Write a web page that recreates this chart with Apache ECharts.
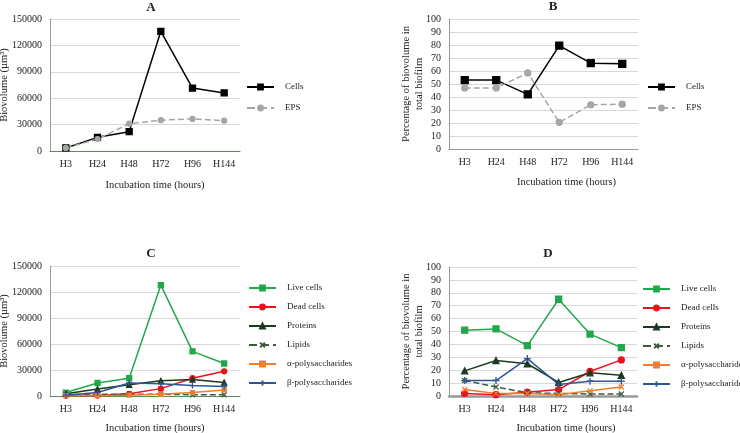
<!DOCTYPE html>
<html>
<head>
<meta charset="utf-8">
<script src="https://cdn.jsdelivr.net/npm/echarts@6/dist/echarts.min.js"></script>
<style>
  html, body { margin: 0; padding: 0; background: #fff; }
  #chart { width: 740px; height: 433px; }
</style>
</head>
<body>
<div id="chart"></div>
<script>
// incubation times
var hours = ['H3', 'H24', 'H48', 'H72', 'H96', 'H144'];

// panel A - biovolume (µm³)
var cellsVol = [3500, 15500, 22000, 136000, 71500, 66000];
var epsVol = [3500, 13500, 31000, 35000, 36500, 34500];

// panel B - percentage of total biofilm
var cellsPct = [53, 53, 42, 79.5, 66, 65.5];
var epsPct = [47, 47, 58.5, 20.5, 34, 34.5];

// panel C - biovolume by component
var liveVol = [4000, 15000, 20500, 128000, 51500, 37500];
var deadVol = [500, 500, 2500, 8500, 20500, 28500];
var protVol = [2500, 8000, 13000, 17500, 19000, 15500];
var lipVol = [1500, 2000, 2000, 2000, 1500, 1500];
var alphaVol = [500, 500, 1000, 2000, 4000, 7000];
var betaVol = [1000, 4000, 15000, 14000, 12000, 11000];

// panel D - percentage by component
var livePct = [51, 52, 39, 75, 48, 37.5];
var deadPct = [2, 1, 3, 5, 19, 28];
var protPct = [19.5, 27.5, 25, 10.5, 18, 16];
var lipPct = [12, 7, 2.5, 2, 1.5, 1.5];
var alphaPct = [5, 2, 2, 1, 4, 7];
var betaPct = [12, 12, 29, 9, 11.5, 11.5];

var font = 'Liberation Serif';
var crossPath = 'path://M0,0L10,10M10,0L0,10';
var plusPath = 'path://M5,0L5,10M0,5L10,5';

var myChart = echarts.init(document.getElementById('chart'));

function xAx(idx, lineColor, lineW, shift, gap) {
  return {
    gridIndex: idx,
    type: 'category',
    data: hours,
    boundaryGap: true,
    axisTick: { show: false },
    axisLine: { lineStyle: { color: lineColor, width: lineW } },
    axisLabel: { color: '#222', fontFamily: font, fontSize: 10, margin: 8, interval: 0 },
    name: 'Incubation time (hours)',
    nameLocation: 'middle',
    nameGap: gap,
    nameTextStyle: { color: '#222', fontFamily: font, fontSize: 10.5, padding: [0, 0, 0, shift] }
  };
}

function yAx(idx, max, step, name, gap) {
  return {
    gridIndex: idx,
    type: 'value',
    min: 0,
    max: max,
    interval: step,
    axisTick: { show: false },
    axisLine: { show: true, lineStyle: { color: '#999', width: 1 } },
    axisLabel: { color: '#222', fontFamily: font, fontSize: 10, margin: 8, formatter: function (v) { return String(v); } },
    splitLine: { lineStyle: { color: '#d9d9d9' } },
    name: name,
    nameLocation: 'middle',
    nameRotate: 90,
    nameGap: gap,
    nameMoveOverlap: false,
    nameTextStyle: { color: '#222', fontFamily: font, fontSize: 10.5, lineHeight: 13 }
  };
}

function line(name, idx, data, color, symbol, size, dashed) {
  return {
    name: name,
    type: 'line',
    xAxisIndex: idx,
    yAxisIndex: idx,
    data: data,
    symbol: symbol,
    symbolSize: size,
    lineStyle: { color: color, width: 1.5, type: dashed ? 'dashed' : 'solid' },
    itemStyle: { color: color, borderColor: color, borderWidth: 1.3 },
    emphasis: { disabled: true }
  };
}

function legend(left, top, names, gap) {
  return {
    orient: 'vertical',
    left: left,
    top: top,
    itemWidth: 27,
    itemHeight: 6,
    itemGap: gap,
    data: names,
    textStyle: { color: '#222', fontFamily: font, fontSize: 9, lineHeight: 12, padding: [0, 0, 0, 6], overflow: 'none' }
  };
}

var compNames = ['Live cells', 'Dead cells', 'Proteins', 'Lipids', 'α-polysaccharides', 'β-polysaccharides'];
var titleStyle = { fontFamily: font, fontSize: 13, fontWeight: 'bold', color: '#222' };

var options = {
  animation: false,
  title: [
    { text: 'A', left: 146, top: -4, textAlign: 'center', textStyle: titleStyle },
    { text: 'B', left: 548, top: -5, textAlign: 'center', textStyle: titleStyle },
    { text: 'C', left: 146, top: 242, textAlign: 'center', textStyle: titleStyle },
    { text: 'D', left: 543, top: 242, textAlign: 'center', textStyle: titleStyle }
  ],
  grid: [
    { left: 50, top: 19, width: 190, height: 132, outerBoundsMode: 'none' },
    { left: 449, top: 19, width: 189, height: 130, outerBoundsMode: 'none' },
    { left: 50, top: 266, width: 190, height: 130, outerBoundsMode: 'none' },
    { left: 449, top: 267, width: 188, height: 129, outerBoundsMode: 'none' }
  ],
  xAxis: [
    xAx(0, '#5f8a5f', 1, 20, 29),
    xAx(1, '#999', 1, 46, 28),
    xAx(2, '#5f8a5f', 1, 20, 27),
    xAx(3, '#999', 2.5, 46, 27)
  ],
  yAxis: [
    yAx(0, 150000, 30000, 'Biovolume (µm³)', 39),
    yAx(1, 100, 10, 'Percentage of biovolume in\ntotal biofilm', 23),
    yAx(2, 150000, 30000, 'Biovolume (µm³)', 39),
    yAx(3, 100, 10, 'Percentage of biovolume in\ntotal biofilm', 23)
  ],
  legend: [
    legend(241, 76, ['Cells', 'EPS'], 9),
    legend(642, 76, ['Cells', 'EPS'], 9),
    legend(243, 277, compNames, 7),
    legend(637, 278, compNames, 7)
  ],
  series: [
    line('Cells', 0, cellsVol, '#000000', 'rect', 6),
    line('EPS', 0, epsVol, '#a6a6a6', 'circle', 5, true),
    line('Cells', 1, cellsPct, '#000000', 'rect', 7),
    line('EPS', 1, epsPct, '#a6a6a6', 'circle', 6, true),

    line('Live cells', 2, liveVol, '#22a84b', 'rect', 5),
    line('Dead cells', 2, deadVol, '#e8141b', 'circle', 5),
    line('Proteins', 2, protVol, '#1d3a1d', 'triangle', 5),
    line('Lipids', 2, lipVol, '#3c5c3c', crossPath, 5, true),
    line('α-polysaccharides', 2, alphaVol, '#f07d32', 'rect', 4),
    line('β-polysaccharides', 2, betaVol, '#2f5597', plusPath, 6),

    line('Live cells', 3, livePct, '#22a84b', 'rect', 6),
    line('Dead cells', 3, deadPct, '#e8141b', 'circle', 6),
    line('Proteins', 3, protPct, '#1d3a1d', 'triangle', 6),
    line('Lipids', 3, lipPct, '#3c5c3c', crossPath, 5, true),
    line('α-polysaccharides', 3, alphaPct, '#f07d32', crossPath, 5),
    line('β-polysaccharides', 3, betaPct, '#2f5597', plusPath, 7)
  ]
};

myChart.setOption(options);
</script>
</body>
</html>
